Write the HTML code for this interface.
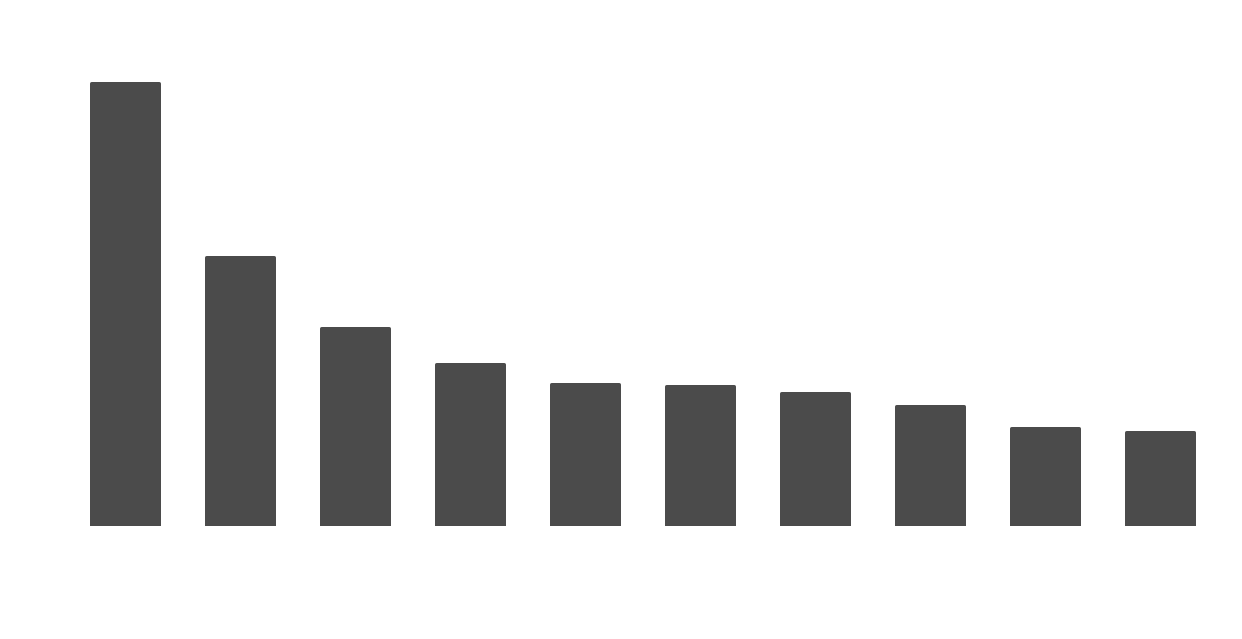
<!DOCTYPE html>
<html><head><meta charset="utf-8"><style>
html,body{margin:0;padding:0;background:#fff;width:1242px;height:639px;overflow:hidden}
</style></head><body>
<svg width="1242" height="639" xmlns="http://www.w3.org/2000/svg">
<g fill="#4b4b4b">
<path d="M90,526V84a2,2 0 0 1 2,-2H159a2,2 0 0 1 2,2V526Z"/>
<path d="M205,526V258a2,2 0 0 1 2,-2H274a2,2 0 0 1 2,2V526Z"/>
<path d="M320,526V329a2,2 0 0 1 2,-2H389a2,2 0 0 1 2,2V526Z"/>
<path d="M435,526V365a2,2 0 0 1 2,-2H504a2,2 0 0 1 2,2V526Z"/>
<path d="M550,526V385a2,2 0 0 1 2,-2H619a2,2 0 0 1 2,2V526Z"/>
<path d="M665,526V387a2,2 0 0 1 2,-2H734a2,2 0 0 1 2,2V526Z"/>
<path d="M780,526V394a2,2 0 0 1 2,-2H849a2,2 0 0 1 2,2V526Z"/>
<path d="M895,526V407a2,2 0 0 1 2,-2H964a2,2 0 0 1 2,2V526Z"/>
<path d="M1010,526V429a2,2 0 0 1 2,-2H1079a2,2 0 0 1 2,2V526Z"/>
<path d="M1125,526V433a2,2 0 0 1 2,-2H1194a2,2 0 0 1 2,2V526Z"/>
</g>
</svg>
</body></html>
